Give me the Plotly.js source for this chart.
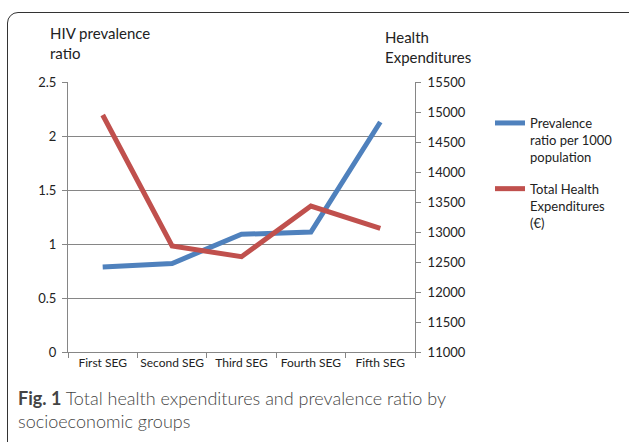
<!DOCTYPE html>
<html><head><meta charset="utf-8">
<script src="https://cdn.plot.ly/plotly-3.0.1.min.js"></script>
<style>
html,body{margin:0;padding:0;background:#fff;}
#wrap{position:relative;width:629px;height:442px;overflow:hidden;}
#frame{position:absolute;left:7px;top:12px;width:640px;height:460px;border:1.5px solid #333;border-radius:11px;box-sizing:border-box;}
#chart{position:absolute;left:0;top:0;width:629px;height:442px;}
</style></head>
<body><div id="wrap"><div id="frame"></div><div id="chart"></div></div>
<script>
var categories = ["First SEG","Second SEG","Third SEG","Fourth SEG","Fifth SEG"];
var prevalence = [0.787, 0.82, 1.09, 1.11, 2.13];
var expenditures = [14950, 12767, 12589, 13433, 13061];

var L=68, T=82, W=348, H=270;
function px(x){return (x-L)/W;}
function py(y){return (T+H-y)/H;}

var font = "Lato, Open Sans, sans-serif";
var traces = [
 {x:categories, y:prevalence, type:"scatter", mode:"lines", name:"Prevalence<br>ratio per 1000<br>population",
  line:{color:"#4F81BD", width:5}, yaxis:"y", legendgroup:"a"},
 {x:categories, y:expenditures, type:"scatter", mode:"lines", name:"Total Health<br>Expenditures<br>(€)",
  line:{color:"#C0504D", width:5}, yaxis:"y2", legendgroup:"b"}
];
var layout = {
 width:629, height:442, margin:{l:L, r:629-L-W, t:T, b:442-T-H},
 paper_bgcolor:"rgba(0,0,0,0)", plot_bgcolor:"rgba(0,0,0,0)",
 font:{family:font, size:12, color:"#222"},
 showlegend:true,
 legend:{x:px(490), y:py(108), xanchor:"left", yanchor:"top", font:{size:13, color:"#222"}, valign:"top",
   traceorder:"grouped", tracegroupgap:12, bgcolor:"rgba(0,0,0,0)"},
 xaxis:{type:"category", tickson:"boundaries", ticks:"outside", ticklen:5, tickcolor:"#868686", tickangle:0,
   showline:true, linecolor:"#868686", linewidth:1, showgrid:false, tickfont:{size:12}, range:[-0.5,4.5]},
 yaxis:{range:[0,2.5], dtick:0.5, tick0:0, showgrid:true, gridcolor:"#868686", gridwidth:1,
   showline:true, linecolor:"#868686", ticks:"outside", ticklen:5, tickcolor:"#868686", zeroline:false,
   tickfont:{size:13}, ticklabelstandoff:3},
 yaxis2:{overlaying:"y", side:"right", range:[11000,15500], dtick:500, tick0:11000,
   showgrid:false, showline:true, linecolor:"#868686", ticks:"outside", ticklen:5, tickcolor:"#868686",
   zeroline:false, tickfont:{size:13}, tickformat:"d", ticklabelstandoff:4},
 annotations:[
  {text:"HIV prevalence<br>ratio", xref:"paper", yref:"paper", x:px(48), y:py(22), xanchor:"left", yanchor:"top",
   showarrow:false, align:"left", font:{size:15, color:"#222"}},
  {text:"Health<br>Expenditures", xref:"paper", yref:"paper", x:px(384), y:py(26), xanchor:"left", yanchor:"top",
   showarrow:false, align:"left", font:{size:15, color:"#222"}},
  {text:"<b>Fig. 1</b> Total health expenditures and prevalence ratio by<br>socioeconomic groups", xref:"paper", yref:"paper",
   x:px(16), y:py(385), xanchor:"left", yanchor:"top", showarrow:false, align:"left",
   font:{size:18, color:"#444", family:font, weight:300}}
 ]
};
Plotly.newPlot("chart", traces, layout, {staticPlot:true});
</script></body></html>
